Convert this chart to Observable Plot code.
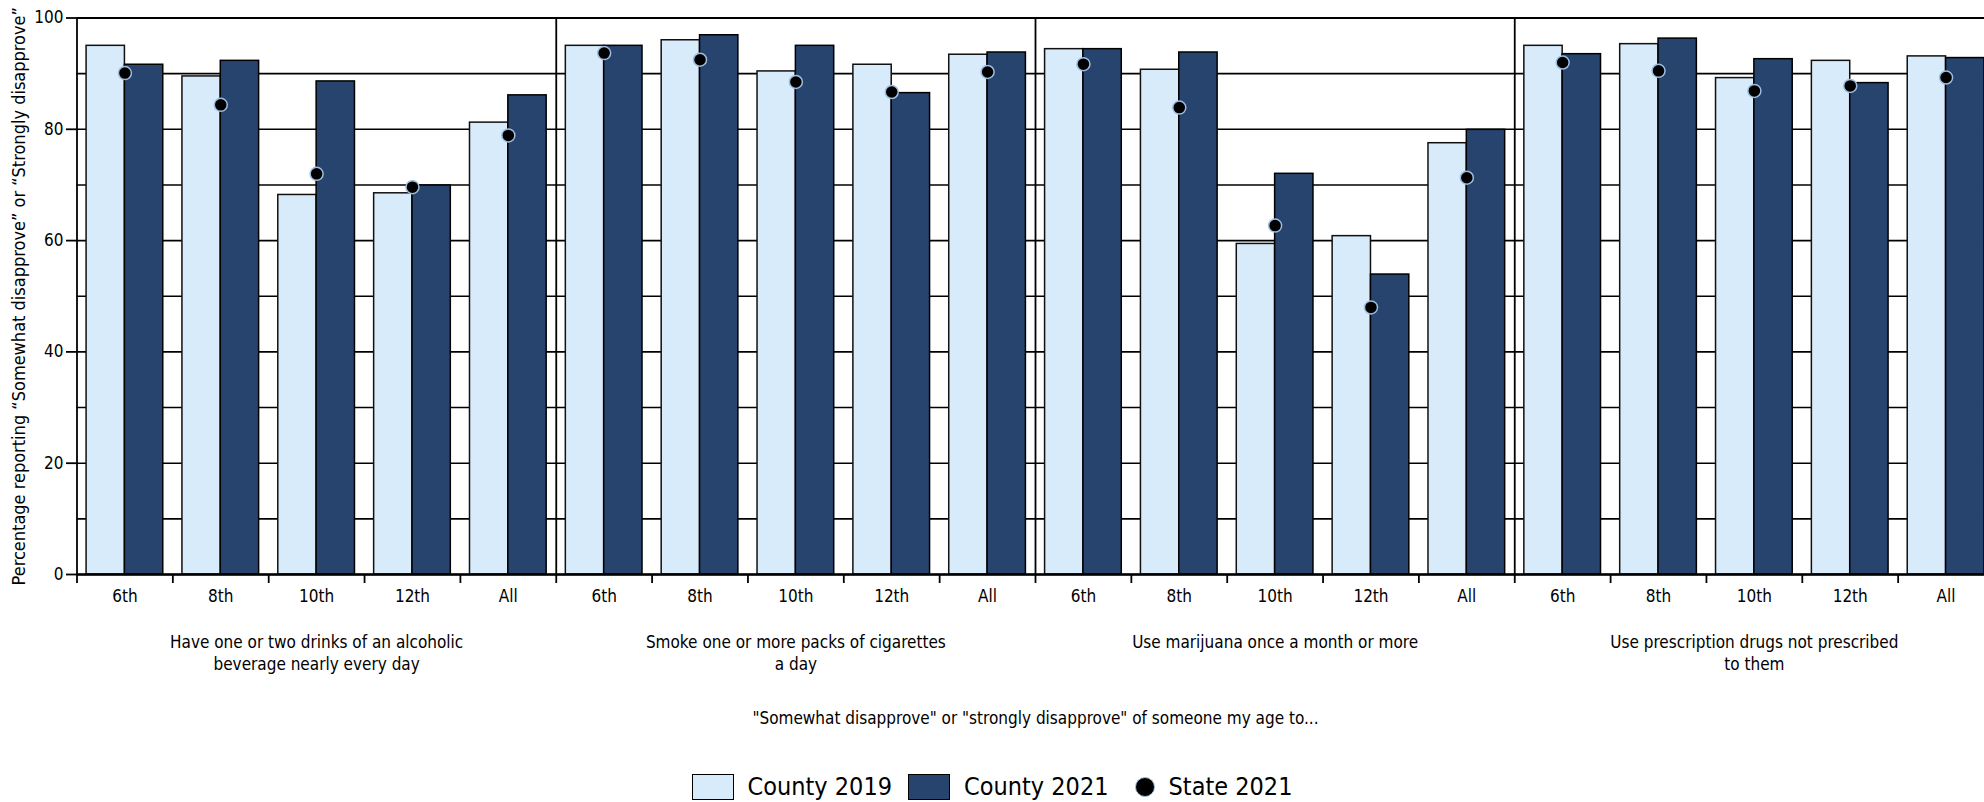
<!DOCTYPE html>
<html>
<head>
<meta charset="utf-8">
<script src="https://cdn.jsdelivr.net/npm/d3@7"></script>
<script src="https://cdn.jsdelivr.net/npm/@observablehq/plot@0.6"></script>
<style>
  html, body { margin: 0; padding: 0; background: #fff; overflow: hidden; }
  body { width: 1984px; height: 802px; position: relative;
         font-family: "Liberation Sans Narrow", "DejaVu Sans Condensed", sans-serif; color: #000; }
  #chart { position: absolute; left: 0; top: 0; }
  #legend { position: absolute; top: 774px; left: 0; width: 1984px; display: flex;
            justify-content: center; align-items: center; font-size: 25px; line-height: 26px; }
  .item { display: flex; align-items: center; margin: 0 8px; }
  .sw { width: 40px; height: 24px; border: 1.5px solid #000; margin-right: 14px; }
  .dot { width: 18px; height: 18px; border-radius: 50%; background: #000; border: 1.5px solid #9fbde0; margin: 0 14px 0 10px; }
</style>
</head>
<body>
<div id="chart"></div>
<div id="legend"></div>
<script>
// ---- data ----
const topics = [
  "Have one or two drinks of an alcoholic\nbeverage nearly every day",
  "Smoke one or more packs of cigarettes\na day",
  "Use marijuana once a month or more",
  "Use prescription drugs not prescribed\nto them"
];
const grades = ["6th", "8th", "10th", "12th", "All"];
const county2019 = [
  [95.0, 89.5, 68.2, 68.5, 81.2],
  [95.0, 96.0, 90.4, 91.6, 93.4],
  [94.4, 90.7, 59.4, 60.8, 77.5],
  [95.0, 95.3, 89.2, 92.3, 93.1]
];
const county2021 = [
  [91.6, 92.3, 88.6, 69.9, 86.1],
  [95.0, 96.9, 95.0, 86.5, 93.8],
  [94.4, 93.8, 72.0, 53.9, 79.9],
  [93.5, 96.3, 92.6, 88.3, 92.8]
];
const state2021 = [
  [90.1, 84.4, 72.0, 69.6, 78.9],
  [93.7, 92.5, 88.5, 86.7, 90.3],
  [91.7, 83.9, 62.7, 48.0, 71.3],
  [92.0, 90.5, 86.9, 87.8, 89.3]
];
const yTicks = [0, 20, 40, 60, 80, 100];
const yGrid = [0, 10, 20, 30, 40, 50, 60, 70, 80, 90, 100];
const seriesNames = ["County 2019", "County 2021", "State 2021"];
const yTitle = "Percentage reporting \u201CSomewhat disapprove\u201D or \u201CStrongly disapprove\u201D";
const xCaption = "\"Somewhat disapprove\" or \"strongly disapprove\" of someone my age to...";

const colLight = "#d8ebfb";
const colDark = "#26446e";

// ---- table ----
const rows = [];
topics.forEach((t, ti) => grades.forEach((g, gi) => {
  rows.push({topic: t, grade: g, idx: ti * grades.length + gi,
             c19: county2019[ti][gi], c21: county2021[ti][gi], st: state2021[ti][gi]});
}));
const nBands = rows.length;
const bandEdges = d3.range(0, nBands + 1);
const bandCenters = d3.range(0, nBands).map(i => i + 0.5);
const panelEdges = d3.range(0, nBands + 1, grades.length);
const topicCenters = topics.map((t, i) => i * grades.length + grades.length / 2);

const font = "\"Liberation Sans Narrow\", \"DejaVu Sans Condensed\", sans-serif";

const chart = Plot.plot({
  width: 1984,
  height: 740,
  marginLeft: 76.5,
  marginRight: -9.5,
  marginTop: 17.5,
  marginBottom: 166,
  style: {fontFamily: font, fontSize: "17px", color: "#000", background: "#fff", overflow: "hidden"},
  x: {domain: [0, nBands], axis: null},
  y: {domain: [0, 100], axis: null},
  marks: [
    Plot.gridY(yGrid, {stroke: "#000", strokeOpacity: 1, strokeWidth: 1.6}),
    Plot.rectY(rows, {x1: d => d.idx + 0.1, x2: d => d.idx + 0.5, y: "c19",
                      fill: colLight, stroke: "#111", strokeWidth: 1.5}),
    Plot.rectY(rows, {x1: d => d.idx + 0.5, x2: d => d.idx + 0.9, y: "c21",
                      fill: colDark, stroke: "#000", strokeWidth: 1.5}),
    Plot.ruleX(panelEdges, {y1: 0, y2: 100, stroke: "#000", strokeWidth: 1.8}),
    Plot.ruleY([100], {stroke: "#000", strokeWidth: 2}),
    Plot.ruleY([0], {stroke: "#000", strokeWidth: 2.5}),
    Plot.dot(rows, {x: d => d.idx + 0.5, y: "st", r: 6.5, fill: "#000",
                    stroke: "#9fbde0", strokeWidth: 1.5}),
    Plot.axisY(yTicks, {tickSize: 10.5, tickPadding: 3, fontSize: 17, strokeWidth: 1.8, label: null}),
    Plot.axisY([], {label: yTitle, labelAnchor: "center", labelOffset: 65, labelArrow: "none", fontSize: 18}),
    Plot.axisX(bandEdges, {tickSize: 9, tickFormat: () => "", strokeWidth: 1.8, label: null}),
    Plot.axisX(bandCenters, {tickSize: 0, tickPadding: 15, fontSize: 17, label: null,
                             tickFormat: v => grades[Math.floor(v) % grades.length]}),
    Plot.axisX(topicCenters, {tickSize: 0, tickPadding: 58, fontSize: 17, label: null, lineHeight: 1.3,
                              tickFormat: v => topics[Math.floor(v / grades.length)]}),
    Plot.text([xCaption], {frameAnchor: "bottom", dy: 144, lineAnchor: "middle", fontSize: 17, text: d => d})
  ]
});
document.getElementById("chart").appendChild(chart);

// ---- legend ----
const legend = document.getElementById("legend");
seriesNames.forEach((name, i) => {
  const item = document.createElement("div");
  item.className = "item";
  const sw = document.createElement("div");
  if (i < 2) {
    sw.className = "sw";
    sw.style.background = i === 0 ? colLight : colDark;
  } else {
    sw.className = "dot";
  }
  const label = document.createElement("span");
  label.textContent = name;
  item.appendChild(sw);
  item.appendChild(label);
  legend.appendChild(item);
});
</script>
</body>
</html>
